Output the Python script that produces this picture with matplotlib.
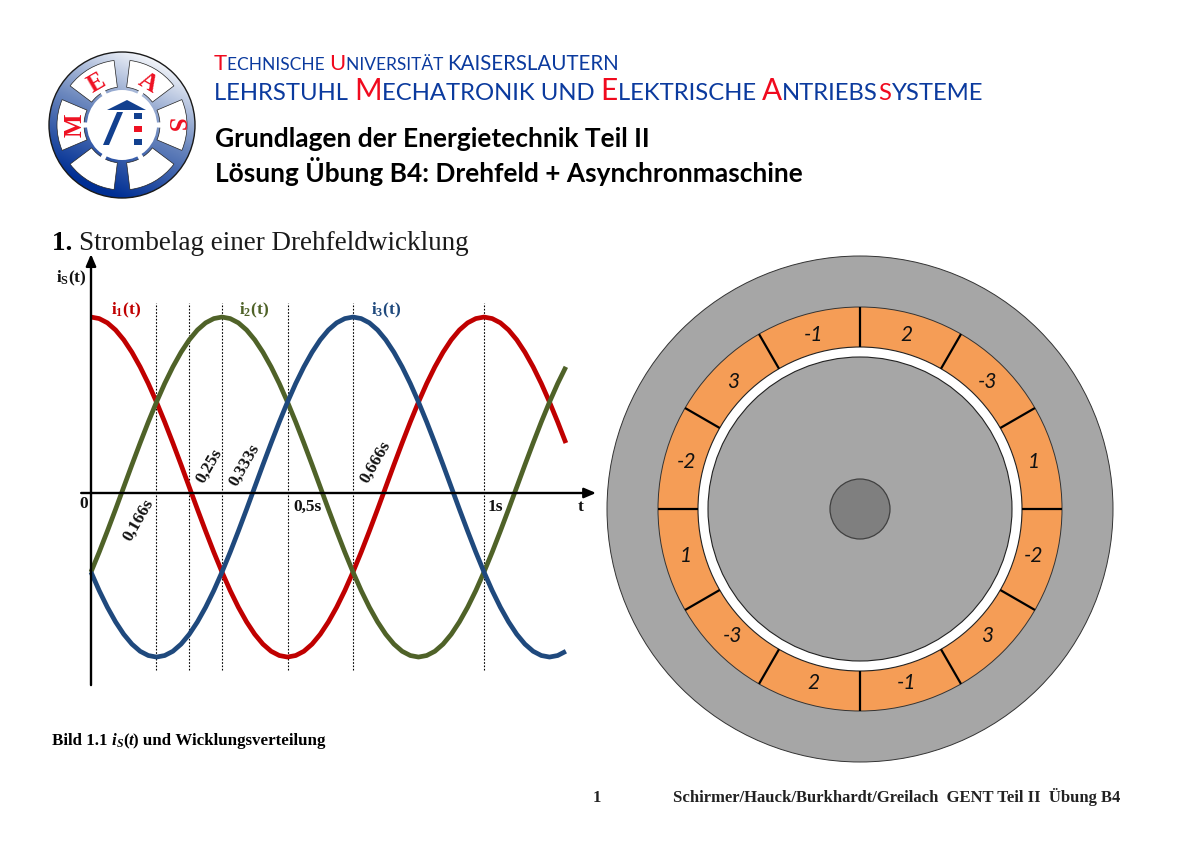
import numpy as np
import matplotlib
matplotlib.use("Agg")
import matplotlib.pyplot as plt
from matplotlib.patches import Circle, Wedge, Polygon, Rectangle

# Time samples for the three currents (1/48 s steps)
t = [k / 48 for k in range(59)]

# Currents, 1 = half of peak to peak
i1 = [1.035, 1.026, 1.001, .959, .901, .828, .742, .644, .535, .418, .294, .166,
      .035, -.096, -.224, -.348, -.465, -.574, -.672, -.758, -.831, -.889, -.931, -.956,
      -.965, -.956, -.931, -.889, -.831, -.758, -.672, -.574, -.465, -.348, -.224, -.096,
      .035, .166, .294, .418, .535, .644, .742, .828, .901, .959, 1.001, 1.026,
      1.035, 1.026, 1.001, .959, .901, .828, .742, .644, .535, .418, .294]
i2 = [-.465, -.348, -.224, -.096, .035, .166, .294, .418, .535, .644, .742, .828,
      .901, .959, 1.001, 1.026, 1.035, 1.026, 1.001, .959, .901, .828, .742, .644,
      .535, .418, .294, .166, .035, -.096, -.224, -.348, -.465, -.574, -.672, -.758,
      -.831, -.889, -.931, -.956, -.965, -.956, -.931, -.889, -.831, -.758, -.672, -.574,
      -.465, -.348, -.224, -.096, .035, .166, .294, .418, .535, .644, .742]
i3 = [-.465, -.574, -.672, -.758, -.831, -.889, -.931, -.956, -.965, -.956, -.931, -.889,
      -.831, -.758, -.672, -.574, -.465, -.348, -.224, -.096, .035, .166, .294, .418,
      .535, .644, .742, .828, .901, .959, 1.001, 1.026, 1.035, 1.026, 1.001, .959,
      .901, .828, .742, .644, .535, .418, .294, .166, .035, -.096, -.224, -.348,
      -.465, -.574, -.672, -.758, -.831, -.889, -.931, -.956, -.965, -.956, -.931]

# Dotted time markers
marker_times = [.166, .25, .333, .5, .666, 1]

# Winding layout, counter clockwise starting at 15 degrees
slot_labels = ["1", "-3", "2", "-1", "3", "-2", "1", "-3", "2", "-1", "3", "-2"]

RED = "#C00000"
GREEN = "#4F6228"
BLUE = "#1F497D"
HEAD_BLUE = "#0B3A9E"
HEAD_RED = "#F00A1E"
SERIF = "Liberation Serif"
SANS = "Lato"

plt.rcParams["font.family"] = SERIF
plt.rcParams["mathtext.fontset"] = "custom"
plt.rcParams["mathtext.bf"] = SERIF + ":bold"

fig = plt.figure(figsize=(12, 8.49), dpi=100)

# page layer in pixel coordinates
page = fig.add_axes([0, 0, 1, 1])
page.axis("off")
page.set_xlim(0, 1200)
page.set_ylim(849, 0)


def seq(x, y, pieces, **kw):
    # write pieces of text one after the other on a baseline
    rend = fig.canvas.get_renderer()
    for p in pieces:
        txt, size, col = p[:3]
        extra = dict(kw)
        dy = 0
        if len(p) > 3:
            extra.update(p[3])
            dy = extra.pop("dy", 0)
        o = page.text(x, y + dy, txt.replace(" ", "\u00a0"), fontsize=size, color=col,
                      va="baseline", ha="left", **extra)
        x = o.get_window_extent(rend).x1


# --- logo ---
lx, ly = 122, 125
g = np.linspace(0, 1, 200)
gx, gy = np.meshgrid(g, g)
grad = np.clip(1.15 * (gy * 0.8 + (1 - gx) * 0.35) - 0.12, 0, 1)
cm = matplotlib.colors.LinearSegmentedColormap.from_list("logo", ["#FFFFFF", "#6C88BE", "#002F94"])
im = page.imshow(grad, extent=[lx - 74, lx + 74, ly + 74, ly - 74], cmap=cm, vmin=0, vmax=1,
                 aspect="auto", zorder=1)
page.set_xlim(0, 1200)
page.set_ylim(849, 0)
rim = Circle((lx, ly), 73, fc="none", ec="#1A1A1A", lw=1, zorder=3)
page.add_patch(rim)
im.set_clip_path(Circle((lx, ly), 73, transform=page.transData))
for a in range(0, 360, 60):
    page.add_patch(Wedge((lx, ly), 65, a - 23, a + 23, width=27, fc="white", ec="#222222",
                         lw=0.5, zorder=2))
    page.add_patch(Wedge((lx, ly), 42, a - 4, a + 4, width=8, fc="white", lw=0, zorder=2))
page.add_patch(Circle((lx, ly), 35, fc="white", lw=0, zorder=2))
for s, px, py, rot in [("M", 75, 125, 90), ("E", 97, 83, 30), ("A", 148, 83, -30), ("S", 174, 125, -90)]:
    page.text(px, py, s, color="#EE1122", fontsize=18, fontweight="bold", rotation=rot,
              ha="center", va="center", zorder=4, family=SERIF)
page.add_patch(Polygon([(107, 110), (127, 100), (146, 110)], fc="#12408F", zorder=4))
page.add_patch(Polygon([(117, 112), (123, 112), (109, 145), (103, 145)], fc="#12408F", zorder=4))
for yy, col in [(113, "#12408F"), (126, "#EE1122"), (139, "#12408F")]:
    page.add_patch(Rectangle((134, yy), 8, 6, fc=col, zorder=4))

# --- header ---
seq(214, 70, [("T", 15.8, HEAD_RED), ("ECHNISCHE ", 12.5, HEAD_BLUE), ("U", 15.8, HEAD_RED),
              ("NIVERSITÄT ", 12.5, HEAD_BLUE), ("KAISERSLAUTERN", 14.8, HEAD_BLUE)], family=SANS)
seq(214, 100, [("LEHRSTUHL ", 17.2, HEAD_BLUE), ("M", 21.4, HEAD_RED), ("ECHATRONIK UND ", 17.2, HEAD_BLUE),
               ("E", 21.4, HEAD_RED), ("LEKTRISCHE ", 17.2, HEAD_BLUE), ("A", 21.4, HEAD_RED),
               ("NTRIEBS", 17.2, HEAD_BLUE), ("S", 17.2, HEAD_RED), ("YSTEME", 17.2, HEAD_BLUE)], family=SANS)
page.text(215, 147, "Grundlagen der Energietechnik Teil II", fontsize=19, fontweight="bold",
          family=SANS, color="black", va="baseline")
page.text(215, 182, "Lösung Übung B4: Drehfeld + Asynchronmaschine", fontsize=18.9, fontweight="bold",
          family=SANS, color="black", va="baseline")

seq(52, 250, [("1. ", 19.5, "black", {"fontweight": "bold"}), ("Strombelag einer Drehfeldwicklung", 19.5, "#1A1A1A")])

# --- footer ---
seq(52, 745, [("Bild 1.1 ", 12.2, "black", {"fontweight": "bold"}),
              ("i", 12.2, "black", {"fontweight": "bold", "style": "italic"}),
              ("S", 8.5, "black", {"fontweight": "bold", "style": "italic", "dy": 2}),
              ("(", 12.2, "black", {"fontweight": "bold"}),
              ("t", 12.2, "black", {"fontweight": "bold", "style": "italic"}),
              (") und Wicklungsverteilung", 12.2, "black", {"fontweight": "bold"})])
page.text(597, 802, "1", fontsize=12, ha="center", va="baseline", fontweight="bold", color="#222222")
page.text(673, 802, "Schirmer/Hauck/Burkhardt/Greilach  GENT Teil II  Übung B4", fontsize=12,
          va="baseline", fontweight="bold", color="#222222")

# --- machine cross section ---
cx, cy = 860, 509
page.add_patch(Circle((cx, cy), 253, fc="#A6A6A6", ec="#333333", lw=0.7, zorder=1))
page.add_patch(Circle((cx, cy), 202, fc="#F59D56", ec="#333333", lw=0.7, zorder=2))
page.add_patch(Circle((cx, cy), 162, fc="white", ec="#222222", lw=0.8, zorder=3))
page.add_patch(Circle((cx, cy), 152, fc="#A6A6A6", ec="#222222", lw=0.8, zorder=4))
page.add_patch(Circle((cx, cy), 30, fc="#7F7F7F", ec="#404040", lw=0.9, zorder=5))
for k, lab in enumerate(slot_labels):
    a = np.deg2rad(30 * k)
    page.plot([cx + 162 * np.cos(a), cx + 202 * np.cos(a)], [cy - 162 * np.sin(a), cy - 202 * np.sin(a)],
              color="black", lw=1.6, zorder=3, solid_capstyle="butt")
    b = np.deg2rad(15 + 30 * k)
    page.text(cx + 180 * np.cos(b), cy - 180 * np.sin(b), lab, fontsize=15, style="italic", family=SANS,
              ha="center", va="center", color="#111111", zorder=6)

# --- current diagram ---
L, R, T, B = 60, 600, 250, 690
ax = fig.add_axes([L / 1200, 1 - B / 849, (R - L) / 1200, (B - T) / 849], facecolor="none")
ax.axis("off")
ax.set_xlim((L - 91) / 393, (R - 91) / 393)
ax.set_ylim((493 - B) / 170, (493 - T) / 170)

for m in marker_times:
    ax.plot([m, m], [-1.04, 1.12], color="black", lw=0.8, ls=(0, (1.5, 1.5)), zorder=1)

ax.plot(t, i1, color=RED, lw=3.4, zorder=2, solid_capstyle="butt")
ax.plot(t, i2, color=GREEN, lw=3.4, zorder=3, solid_capstyle="butt")
ax.plot(t, i3, color=BLUE, lw=3.4, zorder=4, solid_capstyle="butt")

ax.annotate("", xy=(1.285, 0), xytext=(-0.025, 0), zorder=5,
            arrowprops=dict(arrowstyle="-|>,head_width=0.3,head_length=0.7", color="black", lw=1.7,
                            shrinkA=0, shrinkB=0))
ax.annotate("", xy=(0, 1.405), xytext=(0, -1.13), zorder=5,
            arrowprops=dict(arrowstyle="-|>,head_width=0.3,head_length=0.7", color="black", lw=1.7,
                            shrinkA=0, shrinkB=0))

for lab, tt, vv, rot in [("0,166s", .12, -.16, 60), ("0,25s", .30, .16, 60),
                         ("0,333s", .39, .165, 60), ("0,666s", .725, .18, 60)]:
    ax.text(tt, vv, lab, rotation=rot, rotation_mode="anchor", fontsize=12.5, fontweight="bold", ha="center",
            va="center", color="#111111", zorder=6)
for lab, tt, vv in [("0", -.018, -.065), ("0,5s", .552, -.08), ("1s", 1.028, -.08), ("t", 1.247, -.08)]:
    ax.text(tt, vv, lab, fontsize=12.5, fontweight="bold", ha="center", va="center", color="#111111", zorder=6)

for lab, col, tt, vv in [(r"$\mathbf{i_S(t)}$", "#111111", -.05, 1.26), (r"$\mathbf{i_1(t)}$", RED, .09, 1.077),
                         (r"$\mathbf{i_2(t)}$", GREEN, .415, 1.077), (r"$\mathbf{i_3(t)}$", BLUE, .75, 1.077)]:
    ax.text(tt, vv, lab, fontsize=12.5, color=col, ha="center", va="center", zorder=6)

fig.savefig("out.png", dpi=100)
